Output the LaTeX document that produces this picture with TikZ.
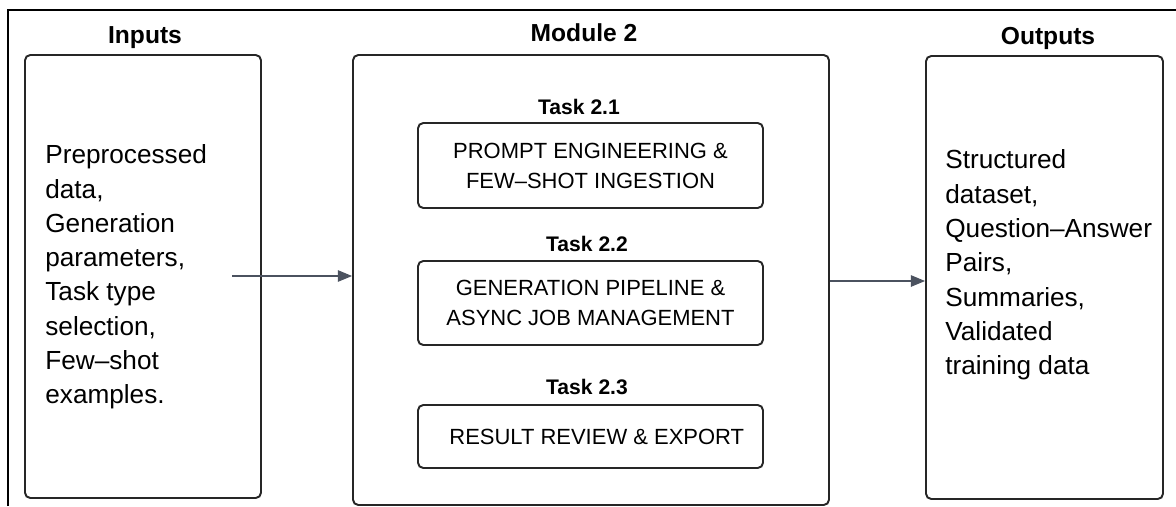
\documentclass[tikz,border=0pt]{standalone}
\usepackage{fontspec}
\setmainfont{Liberation Sans}
\usetikzlibrary{arrows.meta}
\definecolor{linkgray}{RGB}{75,82,95}
\begin{document}
\begin{tikzpicture}[
    panel/.style={rectangle, draw=black!85, line width=1.1pt, rounded corners=3pt},
    task/.style={rectangle, draw=black!85, line width=1.1pt, rounded corners=3pt, minimum width=6.9cm, align=center, font=\fontsize{12.5}{17}\selectfont},
    head/.style={font=\fontsize{14}{16}\selectfont\bfseries},
    sub/.style={font=\fontsize{12}{14}\selectfont\bfseries},
    body/.style={align=left, anchor=west, inner sep=0pt, font=\fontsize{14.9}{19.5}\selectfont},
    arrow/.style={-{Triangle[length=8pt, width=6.5pt]}, draw=linkgray, fill=linkgray, line width=0.6pt}
]
    \useasboundingbox (0, 0) rectangle (23.52, -10.12);

    % Cadre
    \draw[line width=1.1pt] (0.16, -10.12) -- (0.16, -0.2) -- (23.52, -0.2);

    % Colonnes
    \node[panel, minimum width=4.72cm, minimum height=8.86cm] (in) at (2.86, -5.53) {};
    \node[panel, minimum width=9.52cm, minimum height=9.0cm] (mod) at (11.82, -5.6) {};
    \node[panel, minimum width=4.74cm, minimum height=8.86cm] (out) at (20.89, -5.55) {};

    \node[head] (inT) at (2.9, -0.76) {Inputs};
    \node[head] (modT) at (11.68, -0.66) {Module 2};
    \node[head] (outT) at (20.96, -0.76) {Outputs};

    % Taches
    \node[sub] (t1T) at (11.58, -2.14) {Task 2.1};
    \node[task, minimum height=1.7cm] (t1) at (11.81, -3.31) {PROMPT ENGINEERING \&\\FEW--SHOT INGESTION};
    \node[sub] (t2T) at (11.74, -4.88) {Task 2.2};
    \node[task, minimum height=1.68cm] (t2) at (11.81, -6.06) {GENERATION PIPELINE \&\\ASYNC JOB MANAGEMENT};
    \node[sub] (t3T) at (11.74, -7.74) {Task 2.3};
    \node[task, minimum height=1.26cm] (t3) at (11.81, -8.73) {\hspace{0.25cm}RESULT REVIEW \& EXPORT};

    % Textes
    \node[body] (inTxt) at (0.9, -5.54) {Preprocessed\\data,\\Generation\\parameters,\\Task type\\selection,\\Few--shot\\examples.};
    \node[body] (outTxt) at (18.9, -5.3) {Structured\\dataset,\\Question--Answer\\Pairs,\\Summaries,\\Validated\\training data};

    % Fleches
    \coordinate (src) at (4.64, -5.52);
    \draw[arrow] (src) -- (src -| mod.west);
    \draw[arrow] (mod.east |- 0, -5.62) -- (out.west |- 0, -5.62);

\end{tikzpicture}
\end{document}
